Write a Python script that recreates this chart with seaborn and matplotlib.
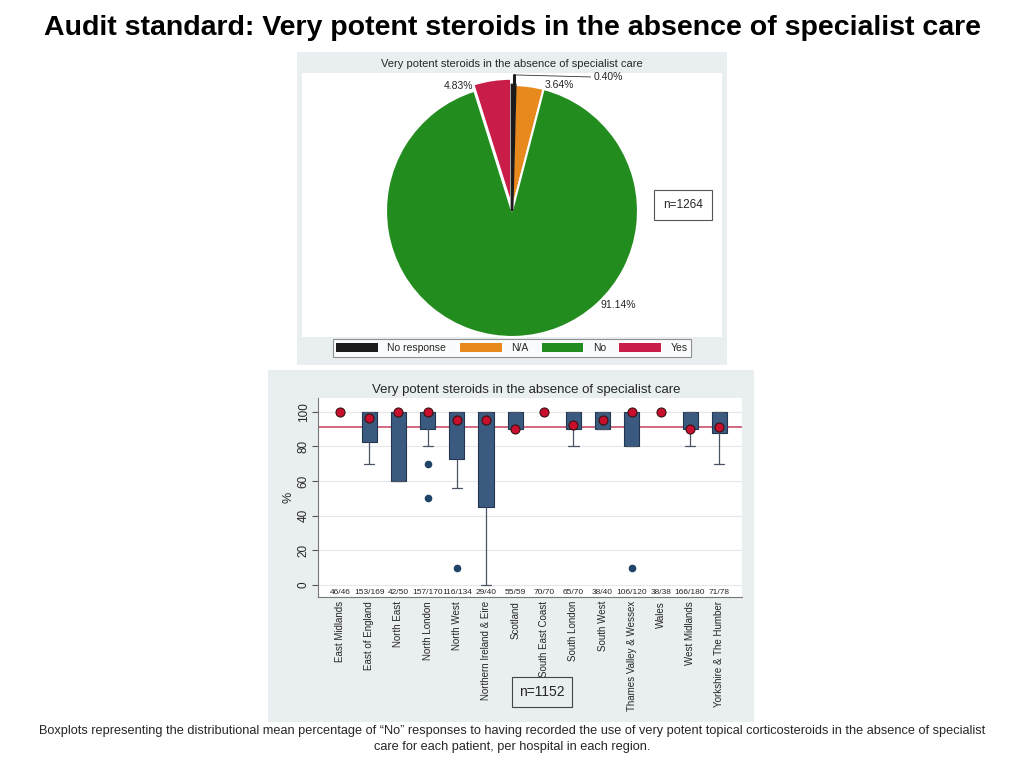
import numpy as np
import matplotlib
matplotlib.use("Agg")
import matplotlib.pyplot as plt
from matplotlib.patches import Rectangle
from matplotlib.transforms import blended_transform_factory
import seaborn as sns

sns.set_theme(style="white")
plt.rcParams['font.family'] = ['Liberation Sans', 'DejaVu Sans']

# ---------------- data ----------------
pie_labels = ["No response", "N/A", "No", "Yes"]
pie_shares = [0.40, 3.64, 91.14, 4.83]
pie_colors = ["#1b1b1b", "#e8891e", "#238c1f", "#c81d48"]

regions = ["East Midlands", "East of England", "North East", "North London",
           "North West", "Northern Ireland & Eire", "Scotland", "South East Coast",
           "South London", "South West", "Thames Valley & Wessex", "Wales",
           "West Midlands", "Yorkshire & The Humber"]
counts = ["46/46", "153/169", "42/50", "157/170", "116/134", "29/40", "55/59",
          "70/70", "65/70", "38/40", "106/120", "38/38", "166/180", "71/78"]
nan = np.nan
q1 = [nan, 82.5, 60, 90, 73, 45, 90, nan, 90, 90, 80, nan, 90, 87.5]
q3 = [nan, 100, 100, 100, 100, 100, 100, nan, 100, 100, 100, nan, 100, 100]
whislo = [nan, 70, 60, 80, 56, 0, 90, nan, 80, 90, 80, nan, 80, 70]
fliers = [[], [], [], [70, 50], [10], [], [], [], [], [], [10], [], [], []]
means = [100, 96.5, 100, 100, 95, 95, 90, 100, 92.5, 95, 100, 100, 90, 91.5]
overall = 91.14

W, H = 1024, 768
fig = plt.figure(figsize=(W / 100, H / 100), dpi=100)
fig.patch.set_facecolor("white")


def px_rect(x0, y0, x1, y1):
    return [x0 / W, 1 - y1 / H, (x1 - x0) / W, (y1 - y0) / H]


def add_box(x0, y0, x1, y1, **kw):
    l, b, w, h = px_rect(x0, y0, x1, y1)
    fig.add_artist(Rectangle((l, b), w, h, transform=fig.transFigure, zorder=-5, **kw))


fig.text(0.5, 1 - 28 / H, "Audit standard: Very potent steroids in the absence of specialist care",
         ha="center", va="center", fontsize=20.5, fontweight="bold", color="black")

# ---------------- pie panel ----------------
panel_bg = "#e9eef1"
add_box(297, 52, 727, 365, facecolor=panel_bg, edgecolor="none")
add_box(302, 73, 722, 337, facecolor="white", edgecolor="none")
fig.text(0.5, 1 - 64 / H, "Very potent steroids in the absence of specialist care",
         ha="center", va="center", fontsize=8)

R = 126
ax_pie = fig.add_axes(px_rect(512 - 1.2 * R, 211 - 1.2 * R, 512 + 1.2 * R, 211 + 1.2 * R))
ax_pie.patch.set_alpha(0)
wedges, _ = ax_pie.pie(pie_shares, colors=pie_colors, startangle=90, counterclock=False,
                       explode=[0, 0, 0, 0.05],
                       wedgeprops=dict(edgecolor="white", linewidth=1.5))
wedges[0].set_edgecolor(pie_colors[0])
wedges[0].set_linewidth(2.0)
wedges[0].set_zorder(3)
ax_pie.set_xlim(-1.2, 1.2)
ax_pie.set_ylim(-1.2, 1.2)
ax_pie.set_aspect("equal")
ax_pie.axis("off")

ax_pie.annotate("0.40%", xy=(0.02, 1.08), xytext=(0.65, 1.06), fontsize=7.5,
                va="center", ha="left",
                arrowprops=dict(arrowstyle="-", color="#333333", lw=0.6,
                                shrinkA=0, shrinkB=0))
ax_pie.plot([0.015, 0.015], [0.98, 1.08], color=pie_colors[0], lw=2.2, zorder=4)
ax_pie.text(0.26, 1.0, "3.64%", fontsize=7.5, ha="left", va="center")
ax_pie.text(-0.31, 0.99, "4.83%", fontsize=7.5, ha="right", va="center")
ax_pie.text(0.70, -0.75, "91.14%", fontsize=7.5, ha="left", va="center")

fig.text(683 / W, 1 - 205 / H, "n=1264", ha="center", va="center", fontsize=8.5,
         bbox=dict(boxstyle="square,pad=0.75", facecolor="white", edgecolor="#555555", lw=0.8))

leg = fig.legend(wedges, pie_labels, loc="center", bbox_to_anchor=(512 / W, 1 - 348 / H),
                 ncol=4, fontsize=7.5, handlelength=4.0, handleheight=0.9,
                 columnspacing=1.3, handletextpad=0.9, frameon=True, fancybox=False,
                 borderpad=0.35)
leg.get_frame().set_edgecolor("#777777")
leg.get_frame().set_linewidth(0.8)
for p in leg.get_patches():
    p.set_edgecolor("none")

# ---------------- box panel ----------------
add_box(268, 370, 754, 722, facecolor=panel_bg, edgecolor="none")
fig.text(526 / W, 1 - 390 / H, "Very potent steroids in the absence of specialist care",
         ha="center", va="center", fontsize=9.5)

ax = fig.add_axes(px_rect(318, 398, 742, 597))
ax.set_facecolor("white")
x = np.arange(len(regions))

stats, pos = [], []
for i in range(len(regions)):
    if np.isnan(q1[i]):
        continue
    stats.append(dict(med=q3[i], q1=q1[i], q3=q3[i], whislo=whislo[i], whishi=q3[i],
                      fliers=fliers[i]))
    pos.append(x[i])

box_fill = "#3b5a7f"
box_edge = "#22364f"
ax.bxp(stats, positions=pos, widths=0.52, patch_artist=True, showfliers=True,
       boxprops=dict(facecolor=box_fill, edgecolor=box_edge, linewidth=0.8),
       medianprops=dict(linewidth=0),
       whiskerprops=dict(color="#4a5366", linewidth=0.9),
       capprops=dict(color="#4a5366", linewidth=0.9),
       capwidths=0.35,
       flierprops=dict(marker="o", markerfacecolor="#1f4468", markeredgecolor="#1f4468",
                       markersize=4.5),
       zorder=3)

ax.axhline(overall, color="#d2687f", lw=1.4, zorder=2)
sns.scatterplot(x=x, y=means, ax=ax, s=42, color="#c8102e", edgecolor="#3a1010",
                linewidth=0.8, zorder=5, legend=False)

ax.set_xlim(-0.76, 13.78)
ax.set_ylim(-7, 108)
ax.set_yticks([0, 20, 40, 60, 80, 100])
ax.set_yticklabels(["0", "20", "40", "60", "80", "100"], rotation=90, va="center",
                   fontsize=8.5)
ax.set_ylabel("%", fontsize=9, labelpad=2)
ax.set_xticks(x)
ax.set_xticklabels([])
ax.tick_params(axis="x", length=0)
ax.tick_params(axis="y", length=4, width=0.8, color="#555555", left=True, pad=2)
ax.grid(axis="y", color="#e4e8eb", lw=0.8)
ax.set_axisbelow(True)
for side in ["top", "right"]:
    ax.spines[side].set_visible(False)
for side in ["left", "bottom"]:
    ax.spines[side].set_color("#777777")
    ax.spines[side].set_linewidth(0.8)

for xi, c in zip(x, counts):
    ax.text(xi, -4.2, c, ha="center", va="center", fontsize=6.0, zorder=6)

trans = blended_transform_factory(ax.transData, ax.transAxes)
for xi, name in zip(x, regions):
    ax.text(xi, -0.02, name, rotation=90, ha="center", va="top", fontsize=7,
            transform=trans)

fig.text(542 / W, 1 - 692 / H, "n=1152", ha="center", va="center", fontsize=10,
         bbox=dict(boxstyle="square,pad=0.55", facecolor="none", edgecolor="#444444", lw=0.8))

# ---------------- caption ----------------
fig.text(0.5, 1 - 739 / H,
         "Boxplots representing the distributional mean percentage of \u201cNo\u201d responses to having "
         "recorded the use of very potent topical corticosteroids in the absence of specialist\n"
         "care for each patient, per hospital in each region.",
         ha="center", va="center", fontsize=9.2, linespacing=1.4)

fig.savefig("out.png", dpi=100)
